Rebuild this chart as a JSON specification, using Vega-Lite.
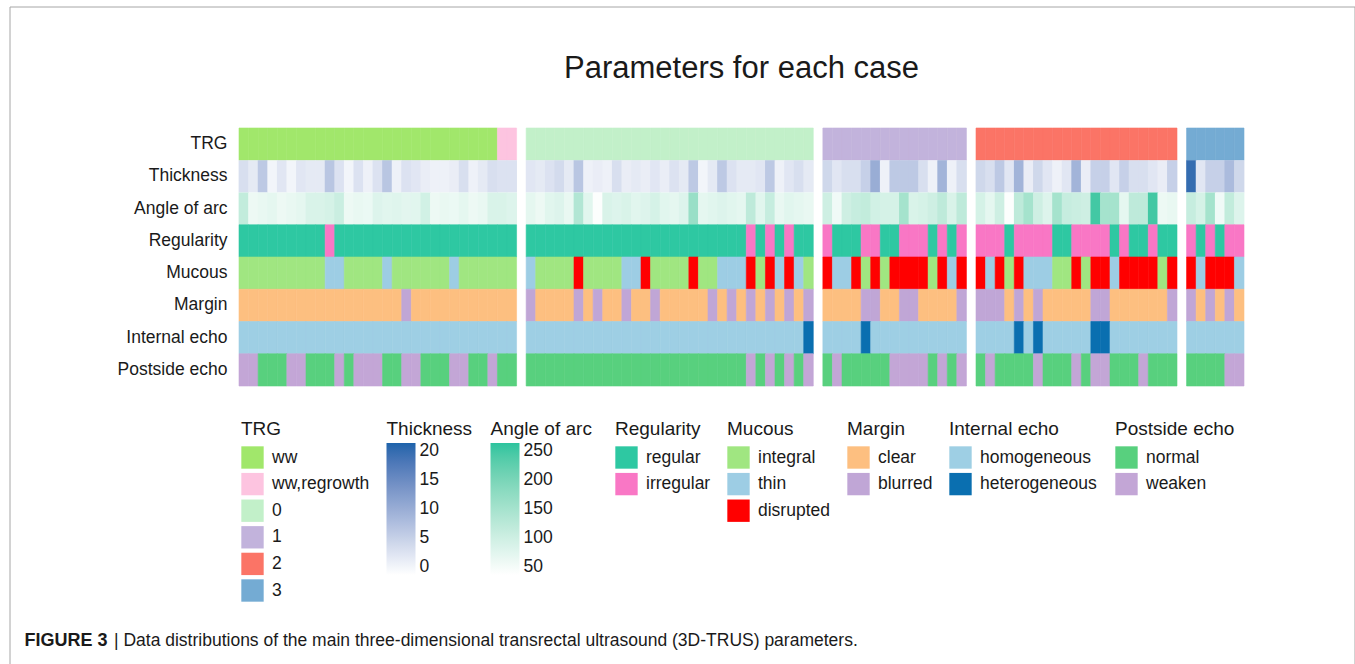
{
  "$schema": "https://vega.github.io/schema/vega-lite/v6.json",
  "width": 1345,
  "height": 657.5,
  "autosize": {"type": "none"},
  "padding": {"left": 9.5, "top": 6.5, "right": 0.5, "bottom": 0},
  "background": "white",
  "config": {
    "font": "Liberation Sans",
    "view": {"stroke": "#a6a6a6", "strokeWidth": 1},
    "legend": {
      "orient": "none",
      "titleFontSize": 19,
      "titleFontWeight": "normal",
      "titleColor": "#1a1a1a",
      "titleFont": "Liberation Sans",
      "titleBaseline": "top",
      "labelFontSize": 17.5,
      "labelColor": "#1a1a1a",
      "labelFont": "Liberation Sans",
      "symbolType": "square",
      "symbolSize": 500,
      "symbolStrokeWidth": 0,
      "symbolOpacity": 1,
      "rowPadding": 3.6,
      "labelOffset": 8,
      "titlePadding": 7.5,
      "padding": 0,
      "gradientLength": 132,
      "gradientThickness": 29,
      "gradientStrokeWidth": 0,
      "direction": "vertical",
      "titleLimit": 300,
      "labelLimit": 300
    }
  },
  "title": {
    "text": "Parameters for each case",
    "fontSize": 31,
    "fontWeight": "normal",
    "font": "Liberation Sans",
    "color": "#1a1a1a",
    "anchor": "middle",
    "frame": "group",
    "offset": 0,
    "baseline": "alphabetic",
    "dx": 59.5,
    "dy": 102
  },
  "data": {
    "values": [
      {"case": "1", "TRG": "ww", "Thickness": 3, "Angle": 115, "Regularity": "regular", "Mucous": "integral", "Margin": "clear", "Internal": "homogeneous", "Postside": "weaken"},
      {"case": "2", "TRG": "ww", "Thickness": 1.5, "Angle": 60, "Regularity": "regular", "Mucous": "integral", "Margin": "clear", "Internal": "homogeneous", "Postside": "weaken"},
      {"case": "3", "TRG": "ww", "Thickness": 6, "Angle": 65, "Regularity": "regular", "Mucous": "integral", "Margin": "clear", "Internal": "homogeneous", "Postside": "normal"},
      {"case": "4", "TRG": "ww", "Thickness": 0, "Angle": 70, "Regularity": "regular", "Mucous": "integral", "Margin": "clear", "Internal": "homogeneous", "Postside": "normal"},
      {"case": "5", "TRG": "ww", "Thickness": 2, "Angle": 60, "Regularity": "regular", "Mucous": "integral", "Margin": "clear", "Internal": "homogeneous", "Postside": "normal"},
      {"case": "6", "TRG": "ww", "Thickness": 0, "Angle": 65, "Regularity": "regular", "Mucous": "integral", "Margin": "clear", "Internal": "homogeneous", "Postside": "weaken"},
      {"case": "7", "TRG": "ww", "Thickness": 2, "Angle": 70, "Regularity": "regular", "Mucous": "integral", "Margin": "clear", "Internal": "homogeneous", "Postside": "weaken"},
      {"case": "8", "TRG": "ww", "Thickness": 1.5, "Angle": 85, "Regularity": "regular", "Mucous": "integral", "Margin": "clear", "Internal": "homogeneous", "Postside": "normal"},
      {"case": "9", "TRG": "ww", "Thickness": 1.5, "Angle": 85, "Regularity": "regular", "Mucous": "integral", "Margin": "clear", "Internal": "homogeneous", "Postside": "normal"},
      {"case": "10", "TRG": "ww", "Thickness": 6.5, "Angle": 90, "Regularity": "irregular", "Mucous": "thin", "Margin": "clear", "Internal": "homogeneous", "Postside": "normal"},
      {"case": "11", "TRG": "ww", "Thickness": 2.5, "Angle": 105, "Regularity": "regular", "Mucous": "thin", "Margin": "clear", "Internal": "homogeneous", "Postside": "weaken"},
      {"case": "12", "TRG": "ww", "Thickness": 0, "Angle": 60, "Regularity": "regular", "Mucous": "integral", "Margin": "clear", "Internal": "homogeneous", "Postside": "normal"},
      {"case": "13", "TRG": "ww", "Thickness": 2.5, "Angle": 65, "Regularity": "regular", "Mucous": "integral", "Margin": "clear", "Internal": "homogeneous", "Postside": "weaken"},
      {"case": "14", "TRG": "ww", "Thickness": 0.5, "Angle": 62, "Regularity": "regular", "Mucous": "integral", "Margin": "clear", "Internal": "homogeneous", "Postside": "weaken"},
      {"case": "15", "TRG": "ww", "Thickness": 2.5, "Angle": 80, "Regularity": "regular", "Mucous": "integral", "Margin": "clear", "Internal": "homogeneous", "Postside": "weaken"},
      {"case": "16", "TRG": "ww", "Thickness": 6.5, "Angle": 75, "Regularity": "regular", "Mucous": "thin", "Margin": "clear", "Internal": "homogeneous", "Postside": "normal"},
      {"case": "17", "TRG": "ww", "Thickness": 0.5, "Angle": 78, "Regularity": "regular", "Mucous": "integral", "Margin": "clear", "Internal": "homogeneous", "Postside": "normal"},
      {"case": "18", "TRG": "ww", "Thickness": 2.5, "Angle": 72, "Regularity": "regular", "Mucous": "integral", "Margin": "blurred", "Internal": "homogeneous", "Postside": "weaken"},
      {"case": "19", "TRG": "ww", "Thickness": 2, "Angle": 75, "Regularity": "regular", "Mucous": "integral", "Margin": "clear", "Internal": "homogeneous", "Postside": "weaken"},
      {"case": "20", "TRG": "ww", "Thickness": 1, "Angle": 95, "Regularity": "regular", "Mucous": "integral", "Margin": "clear", "Internal": "homogeneous", "Postside": "normal"},
      {"case": "21", "TRG": "ww", "Thickness": 0.5, "Angle": 60, "Regularity": "regular", "Mucous": "integral", "Margin": "clear", "Internal": "homogeneous", "Postside": "normal"},
      {"case": "22", "TRG": "ww", "Thickness": 0.5, "Angle": 65, "Regularity": "regular", "Mucous": "integral", "Margin": "clear", "Internal": "homogeneous", "Postside": "normal"},
      {"case": "23", "TRG": "ww", "Thickness": 1, "Angle": 62, "Regularity": "regular", "Mucous": "thin", "Margin": "clear", "Internal": "homogeneous", "Postside": "weaken"},
      {"case": "24", "TRG": "ww", "Thickness": 3, "Angle": 70, "Regularity": "regular", "Mucous": "integral", "Margin": "clear", "Internal": "homogeneous", "Postside": "weaken"},
      {"case": "25", "TRG": "ww", "Thickness": 0.5, "Angle": 60, "Regularity": "regular", "Mucous": "integral", "Margin": "clear", "Internal": "homogeneous", "Postside": "normal"},
      {"case": "26", "TRG": "ww", "Thickness": 1.5, "Angle": 65, "Regularity": "regular", "Mucous": "integral", "Margin": "clear", "Internal": "homogeneous", "Postside": "normal"},
      {"case": "27", "TRG": "ww", "Thickness": 3, "Angle": 85, "Regularity": "regular", "Mucous": "integral", "Margin": "clear", "Internal": "homogeneous", "Postside": "weaken"},
      {"case": "28", "TRG": "ww,regrowth", "Thickness": 2.5, "Angle": 85, "Regularity": "regular", "Mucous": "integral", "Margin": "clear", "Internal": "homogeneous", "Postside": "normal"},
      {"case": "29", "TRG": "ww,regrowth", "Thickness": 2.5, "Angle": 80, "Regularity": "regular", "Mucous": "integral", "Margin": "clear", "Internal": "homogeneous", "Postside": "normal"},
      {"case": "30", "TRG": "0", "Thickness": 2, "Angle": 70, "Regularity": "regular", "Mucous": "thin", "Margin": "blurred", "Internal": "homogeneous", "Postside": "normal"},
      {"case": "31", "TRG": "0", "Thickness": 1.5, "Angle": 60, "Regularity": "regular", "Mucous": "integral", "Margin": "clear", "Internal": "homogeneous", "Postside": "normal"},
      {"case": "32", "TRG": "0", "Thickness": 2.5, "Angle": 75, "Regularity": "regular", "Mucous": "integral", "Margin": "clear", "Internal": "homogeneous", "Postside": "normal"},
      {"case": "33", "TRG": "0", "Thickness": 3.5, "Angle": 80, "Regularity": "regular", "Mucous": "integral", "Margin": "clear", "Internal": "homogeneous", "Postside": "normal"},
      {"case": "34", "TRG": "0", "Thickness": 1.5, "Angle": 65, "Regularity": "regular", "Mucous": "integral", "Margin": "clear", "Internal": "homogeneous", "Postside": "normal"},
      {"case": "35", "TRG": "0", "Thickness": 6.5, "Angle": 135, "Regularity": "regular", "Mucous": "disrupted", "Margin": "blurred", "Internal": "homogeneous", "Postside": "normal"},
      {"case": "36", "TRG": "0", "Thickness": 0.5, "Angle": 75, "Regularity": "regular", "Mucous": "integral", "Margin": "clear", "Internal": "homogeneous", "Postside": "normal"},
      {"case": "37", "TRG": "0", "Thickness": 1, "Angle": 40, "Regularity": "regular", "Mucous": "integral", "Margin": "blurred", "Internal": "homogeneous", "Postside": "normal"},
      {"case": "38", "TRG": "0", "Thickness": 0.5, "Angle": 85, "Regularity": "regular", "Mucous": "integral", "Margin": "clear", "Internal": "homogeneous", "Postside": "normal"},
      {"case": "39", "TRG": "0", "Thickness": 3, "Angle": 80, "Regularity": "regular", "Mucous": "integral", "Margin": "clear", "Internal": "homogeneous", "Postside": "normal"},
      {"case": "40", "TRG": "0", "Thickness": 1, "Angle": 85, "Regularity": "regular", "Mucous": "thin", "Margin": "blurred", "Internal": "homogeneous", "Postside": "normal"},
      {"case": "41", "TRG": "0", "Thickness": 1.5, "Angle": 75, "Regularity": "regular", "Mucous": "thin", "Margin": "clear", "Internal": "homogeneous", "Postside": "normal"},
      {"case": "42", "TRG": "0", "Thickness": 1, "Angle": 80, "Regularity": "regular", "Mucous": "disrupted", "Margin": "clear", "Internal": "homogeneous", "Postside": "normal"},
      {"case": "43", "TRG": "0", "Thickness": 2, "Angle": 90, "Regularity": "regular", "Mucous": "integral", "Margin": "blurred", "Internal": "homogeneous", "Postside": "normal"},
      {"case": "44", "TRG": "0", "Thickness": 1, "Angle": 75, "Regularity": "regular", "Mucous": "integral", "Margin": "clear", "Internal": "homogeneous", "Postside": "normal"},
      {"case": "45", "TRG": "0", "Thickness": 2.5, "Angle": 70, "Regularity": "regular", "Mucous": "integral", "Margin": "clear", "Internal": "homogeneous", "Postside": "normal"},
      {"case": "46", "TRG": "0", "Thickness": 1.5, "Angle": 80, "Regularity": "regular", "Mucous": "integral", "Margin": "clear", "Internal": "homogeneous", "Postside": "normal"},
      {"case": "47", "TRG": "0", "Thickness": 6, "Angle": 165, "Regularity": "regular", "Mucous": "disrupted", "Margin": "clear", "Internal": "homogeneous", "Postside": "normal"},
      {"case": "48", "TRG": "0", "Thickness": 0, "Angle": 70, "Regularity": "regular", "Mucous": "integral", "Margin": "clear", "Internal": "homogeneous", "Postside": "normal"},
      {"case": "49", "TRG": "0", "Thickness": 1.5, "Angle": 75, "Regularity": "regular", "Mucous": "integral", "Margin": "blurred", "Internal": "homogeneous", "Postside": "normal"},
      {"case": "50", "TRG": "0", "Thickness": 6, "Angle": 80, "Regularity": "regular", "Mucous": "thin", "Margin": "clear", "Internal": "homogeneous", "Postside": "normal"},
      {"case": "51", "TRG": "0", "Thickness": 2.5, "Angle": 75, "Regularity": "regular", "Mucous": "thin", "Margin": "blurred", "Internal": "homogeneous", "Postside": "normal"},
      {"case": "52", "TRG": "0", "Thickness": 1.5, "Angle": 70, "Regularity": "regular", "Mucous": "thin", "Margin": "clear", "Internal": "homogeneous", "Postside": "normal"},
      {"case": "53", "TRG": "0", "Thickness": 1.5, "Angle": 120, "Regularity": "irregular", "Mucous": "disrupted", "Margin": "blurred", "Internal": "homogeneous", "Postside": "weaken"},
      {"case": "54", "TRG": "0", "Thickness": 2, "Angle": 75, "Regularity": "regular", "Mucous": "integral", "Margin": "clear", "Internal": "homogeneous", "Postside": "normal"},
      {"case": "55", "TRG": "0", "Thickness": 6, "Angle": 110, "Regularity": "irregular", "Mucous": "disrupted", "Margin": "blurred", "Internal": "homogeneous", "Postside": "weaken"},
      {"case": "56", "TRG": "0", "Thickness": 0.5, "Angle": 65, "Regularity": "regular", "Mucous": "thin", "Margin": "clear", "Internal": "homogeneous", "Postside": "normal"},
      {"case": "57", "TRG": "0", "Thickness": 2, "Angle": 75, "Regularity": "irregular", "Mucous": "disrupted", "Margin": "blurred", "Internal": "homogeneous", "Postside": "weaken"},
      {"case": "58", "TRG": "0", "Thickness": 3, "Angle": 70, "Regularity": "regular", "Mucous": "thin", "Margin": "clear", "Internal": "homogeneous", "Postside": "normal"},
      {"case": "59", "TRG": "0", "Thickness": 1.5, "Angle": 65, "Regularity": "regular", "Mucous": "integral", "Margin": "blurred", "Internal": "heterogeneous", "Postside": "weaken"},
      {"case": "60", "TRG": "1", "Thickness": 4, "Angle": 100, "Regularity": "irregular", "Mucous": "disrupted", "Margin": "clear", "Internal": "homogeneous", "Postside": "normal"},
      {"case": "61", "TRG": "1", "Thickness": 2, "Angle": 55, "Regularity": "regular", "Mucous": "thin", "Margin": "clear", "Internal": "homogeneous", "Postside": "weaken"},
      {"case": "62", "TRG": "1", "Thickness": 3, "Angle": 100, "Regularity": "regular", "Mucous": "thin", "Margin": "clear", "Internal": "homogeneous", "Postside": "normal"},
      {"case": "63", "TRG": "1", "Thickness": 3, "Angle": 110, "Regularity": "regular", "Mucous": "disrupted", "Margin": "clear", "Internal": "homogeneous", "Postside": "normal"},
      {"case": "64", "TRG": "1", "Thickness": 5, "Angle": 115, "Regularity": "irregular", "Mucous": "integral", "Margin": "blurred", "Internal": "heterogeneous", "Postside": "normal"},
      {"case": "65", "TRG": "1", "Thickness": 10, "Angle": 95, "Regularity": "irregular", "Mucous": "disrupted", "Margin": "blurred", "Internal": "homogeneous", "Postside": "normal"},
      {"case": "66", "TRG": "1", "Thickness": 0.5, "Angle": 90, "Regularity": "regular", "Mucous": "integral", "Margin": "clear", "Internal": "homogeneous", "Postside": "normal"},
      {"case": "67", "TRG": "1", "Thickness": 6, "Angle": 90, "Regularity": "regular", "Mucous": "disrupted", "Margin": "clear", "Internal": "homogeneous", "Postside": "weaken"},
      {"case": "68", "TRG": "1", "Thickness": 6, "Angle": 150, "Regularity": "irregular", "Mucous": "disrupted", "Margin": "blurred", "Internal": "homogeneous", "Postside": "weaken"},
      {"case": "69", "TRG": "1", "Thickness": 6, "Angle": 85, "Regularity": "irregular", "Mucous": "disrupted", "Margin": "blurred", "Internal": "homogeneous", "Postside": "weaken"},
      {"case": "70", "TRG": "1", "Thickness": 3, "Angle": 90, "Regularity": "irregular", "Mucous": "disrupted", "Margin": "clear", "Internal": "homogeneous", "Postside": "weaken"},
      {"case": "71", "TRG": "1", "Thickness": 0.5, "Angle": 100, "Regularity": "regular", "Mucous": "integral", "Margin": "clear", "Internal": "homogeneous", "Postside": "normal"},
      {"case": "72", "TRG": "1", "Thickness": 9, "Angle": 120, "Regularity": "irregular", "Mucous": "disrupted", "Margin": "clear", "Internal": "homogeneous", "Postside": "weaken"},
      {"case": "73", "TRG": "1", "Thickness": 0.5, "Angle": 85, "Regularity": "regular", "Mucous": "thin", "Margin": "clear", "Internal": "homogeneous", "Postside": "normal"},
      {"case": "74", "TRG": "1", "Thickness": 3, "Angle": 120, "Regularity": "irregular", "Mucous": "disrupted", "Margin": "blurred", "Internal": "homogeneous", "Postside": "weaken"},
      {"case": "75", "TRG": "2", "Thickness": 4, "Angle": 90, "Regularity": "irregular", "Mucous": "disrupted", "Margin": "blurred", "Internal": "homogeneous", "Postside": "normal"},
      {"case": "76", "TRG": "2", "Thickness": 3, "Angle": 70, "Regularity": "irregular", "Mucous": "thin", "Margin": "blurred", "Internal": "homogeneous", "Postside": "weaken"},
      {"case": "77", "TRG": "2", "Thickness": 6, "Angle": 100, "Regularity": "irregular", "Mucous": "disrupted", "Margin": "blurred", "Internal": "homogeneous", "Postside": "normal"},
      {"case": "78", "TRG": "2", "Thickness": 2, "Angle": 40, "Regularity": "regular", "Mucous": "integral", "Margin": "clear", "Internal": "homogeneous", "Postside": "normal"},
      {"case": "79", "TRG": "2", "Thickness": 9, "Angle": 120, "Regularity": "irregular", "Mucous": "disrupted", "Margin": "blurred", "Internal": "heterogeneous", "Postside": "normal"},
      {"case": "80", "TRG": "2", "Thickness": 1, "Angle": 150, "Regularity": "irregular", "Mucous": "thin", "Margin": "clear", "Internal": "homogeneous", "Postside": "normal"},
      {"case": "81", "TRG": "2", "Thickness": 4, "Angle": 100, "Regularity": "irregular", "Mucous": "thin", "Margin": "blurred", "Internal": "heterogeneous", "Postside": "weaken"},
      {"case": "82", "TRG": "2", "Thickness": 2, "Angle": 80, "Regularity": "irregular", "Mucous": "thin", "Margin": "clear", "Internal": "homogeneous", "Postside": "normal"},
      {"case": "83", "TRG": "2", "Thickness": 0.5, "Angle": 150, "Regularity": "regular", "Mucous": "integral", "Margin": "clear", "Internal": "homogeneous", "Postside": "normal"},
      {"case": "84", "TRG": "2", "Thickness": 2, "Angle": 110, "Regularity": "regular", "Mucous": "integral", "Margin": "clear", "Internal": "homogeneous", "Postside": "normal"},
      {"case": "85", "TRG": "2", "Thickness": 9, "Angle": 105, "Regularity": "irregular", "Mucous": "disrupted", "Margin": "clear", "Internal": "homogeneous", "Postside": "weaken"},
      {"case": "86", "TRG": "2", "Thickness": 1, "Angle": 100, "Regularity": "irregular", "Mucous": "integral", "Margin": "clear", "Internal": "homogeneous", "Postside": "normal"},
      {"case": "87", "TRG": "2", "Thickness": 5, "Angle": 250, "Regularity": "irregular", "Mucous": "disrupted", "Margin": "blurred", "Internal": "heterogeneous", "Postside": "weaken"},
      {"case": "88", "TRG": "2", "Thickness": 5, "Angle": 150, "Regularity": "irregular", "Mucous": "disrupted", "Margin": "blurred", "Internal": "heterogeneous", "Postside": "weaken"},
      {"case": "89", "TRG": "2", "Thickness": 2, "Angle": 150, "Regularity": "regular", "Mucous": "thin", "Margin": "clear", "Internal": "homogeneous", "Postside": "normal"},
      {"case": "90", "TRG": "2", "Thickness": 5, "Angle": 70, "Regularity": "irregular", "Mucous": "disrupted", "Margin": "clear", "Internal": "homogeneous", "Postside": "normal"},
      {"case": "91", "TRG": "2", "Thickness": 3, "Angle": 120, "Regularity": "regular", "Mucous": "disrupted", "Margin": "clear", "Internal": "homogeneous", "Postside": "normal"},
      {"case": "92", "TRG": "2", "Thickness": 3, "Angle": 120, "Regularity": "regular", "Mucous": "disrupted", "Margin": "clear", "Internal": "homogeneous", "Postside": "weaken"},
      {"case": "93", "TRG": "2", "Thickness": 2, "Angle": 250, "Regularity": "irregular", "Mucous": "disrupted", "Margin": "clear", "Internal": "homogeneous", "Postside": "normal"},
      {"case": "94", "TRG": "2", "Thickness": 1, "Angle": 60, "Regularity": "regular", "Mucous": "integral", "Margin": "clear", "Internal": "homogeneous", "Postside": "normal"},
      {"case": "95", "TRG": "2", "Thickness": 5, "Angle": 65, "Regularity": "regular", "Mucous": "disrupted", "Margin": "blurred", "Internal": "homogeneous", "Postside": "normal"},
      {"case": "96", "TRG": "3", "Thickness": 20, "Angle": 110, "Regularity": "irregular", "Mucous": "disrupted", "Margin": "blurred", "Internal": "homogeneous", "Postside": "normal"},
      {"case": "97", "TRG": "3", "Thickness": 2, "Angle": 90, "Regularity": "regular", "Mucous": "thin", "Margin": "clear", "Internal": "homogeneous", "Postside": "normal"},
      {"case": "98", "TRG": "3", "Thickness": 5, "Angle": 150, "Regularity": "irregular", "Mucous": "disrupted", "Margin": "blurred", "Internal": "homogeneous", "Postside": "normal"},
      {"case": "99", "TRG": "3", "Thickness": 5, "Angle": 55, "Regularity": "regular", "Mucous": "disrupted", "Margin": "clear", "Internal": "homogeneous", "Postside": "normal"},
      {"case": "100", "TRG": "3", "Thickness": 8, "Angle": 115, "Regularity": "irregular", "Mucous": "disrupted", "Margin": "blurred", "Internal": "homogeneous", "Postside": "weaken"},
      {"case": "101", "TRG": "3", "Thickness": 4, "Angle": 80, "Regularity": "irregular", "Mucous": "thin", "Margin": "clear", "Internal": "homogeneous", "Postside": "weaken"}
    ]
  },
  "encoding": {
    "x": {
      "field": "case",
      "type": "nominal",
      "scale": {
        "domain": ["1","2","3","4","5","6","7","8","9","10","11","12","13","14","15","16","17","18","19","20","21","22","23","24","25","26","27","28","29","g1","30","31","32","33","34","35","36","37","38","39","40","41","42","43","44","45","46","47","48","49","50","51","52","53","54","55","56","57","58","59","g2","60","61","62","63","64","65","66","67","68","69","70","71","72","73","74","g3","75","76","77","78","79","80","81","82","83","84","85","86","87","88","89","90","91","92","93","94","95","g4","96","97","98","99","100","101"],
        "paddingInner": 0,
        "paddingOuter": 0,
        "range": [229.5, 1234.5]
      },
      "axis": {
        "labels": false,
        "ticks": false,
        "domain": false,
        "grid": false,
        "title": "|   Data distributions of the main three-dimensional transrectal ultrasound (3D-TRUS) parameters.",
        "titleX": 104,
        "titleY": -19,
        "titleAngle": 0,
        "titleAlign": "left",
        "titleBaseline": "alphabetic",
        "titleFontSize": 17.5,
        "titleFontWeight": "normal",
        "titleColor": "#1a1a1a",
        "titleFont": "Liberation Sans"
      }
    }
  },
  "layer": [
    {
      "mark": {"type": "rect", "strokeWidth": 0.6},
      "encoding": {
        "y": {
          "datum": "TRG",
          "type": "nominal",
          "scale": {"domain": ["TRG","Thickness","Angle of arc","Regularity","Mucous","Margin","Internal echo","Postside echo"], "paddingInner": 0, "paddingOuter": 0, "range": [121.5, 379.5]},
          "axis": {
            "offset": -229.5,
            "ticks": false,
            "domain": false,
            "grid": false,
            "labelPadding": 12,
            "labelFontSize": 17.5,
            "labelColor": "#1a1a1a",
            "labelFont": "Liberation Sans",
            "title": "FIGURE 3",
            "titleAngle": 0,
            "titleX": -215,
            "titleY": 638.5,
            "titleAlign": "left",
            "titleBaseline": "alphabetic",
            "titleFontSize": 18,
            "titleFontWeight": "bold",
            "titleColor": "#1a1a1a",
            "titleFont": "Liberation Sans"
          }
        },
        "color": {
          "field": "TRG",
          "type": "nominal",
          "scale": {"domain": ["ww","ww,regrowth","0","1","2","3"], "range": ["#a1e76b","#fdc4e0","#c2f0c9","#c2b3dc","#fb7466","#74abd3"]},
          "legend": {"title": "TRG", "legendX": 231.5, "legendY": 413}
        },
        "stroke": {
          "field": "TRG",
          "type": "nominal",
          "scale": {"domain": ["ww","ww,regrowth","0","1","2","3"], "range": ["#a1e76b","#fdc4e0","#c2f0c9","#c2b3dc","#fb7466","#74abd3"]},
          "legend": null
        }
      }
    },
    {
      "mark": {"type": "rect", "strokeWidth": 0, "width": {"band": 1.08}},
      "encoding": {
        "y": {"datum": "Thickness", "type": "nominal", "scale": {"domain": ["TRG","Thickness","Angle of arc","Regularity","Mucous","Margin","Internal echo","Postside echo"], "paddingInner": 0, "paddingOuter": 0, "range": [121.5, 379.5]}},
        "color": {
          "field": "Thickness",
          "type": "quantitative",
          "scale": {"domain": [-1.4, 21.4], "range": ["#ffffff", "#1d63ab"], "interpolate": "lab", "nice": false, "zero": false},
          "legend": {"title": "Thickness", "legendX": 377, "legendY": 413, "values": [0, 5, 10, 15, 20], "titlePadding": 4.5, "labelOffset": 4}
        }
      }
    },
    {
      "mark": {"type": "rect", "strokeWidth": 0, "width": {"band": 1.08}},
      "encoding": {
        "y": {"datum": "Angle of arc", "type": "nominal", "scale": {"domain": ["TRG","Thickness","Angle of arc","Regularity","Mucous","Margin","Internal echo","Postside echo"], "paddingInner": 0, "paddingOuter": 0, "range": [121.5, 379.5]}},
        "color": {
          "field": "Angle",
          "type": "quantitative",
          "scale": {"domain": [36, 264], "range": ["#ffffff", "#2cc49e"], "interpolate": "lab", "nice": false, "zero": false},
          "legend": {"title": "Angle of arc", "legendX": 481, "legendY": 413, "values": [50, 100, 150, 200, 250], "titlePadding": 4.5, "labelOffset": 4}
        }
      }
    },
    {
      "mark": {"type": "rect", "strokeWidth": 0.6},
      "encoding": {
        "y": {"datum": "Regularity", "type": "nominal", "scale": {"domain": ["TRG","Thickness","Angle of arc","Regularity","Mucous","Margin","Internal echo","Postside echo"], "paddingInner": 0, "paddingOuter": 0, "range": [121.5, 379.5]}},
        "color": {
          "field": "Regularity",
          "type": "nominal",
          "scale": {"domain": ["regular","irregular"], "range": ["#2ec8a2","#f977c5"]},
          "legend": {"title": "Regularity", "legendX": 605.5, "legendY": 413}
        },
        "stroke": {
          "field": "Regularity",
          "type": "nominal",
          "scale": {"domain": ["regular","irregular"], "range": ["#2ec8a2","#f977c5"]},
          "legend": null
        }
      }
    },
    {
      "mark": {"type": "rect", "strokeWidth": 0.6},
      "encoding": {
        "y": {"datum": "Mucous", "type": "nominal", "scale": {"domain": ["TRG","Thickness","Angle of arc","Regularity","Mucous","Margin","Internal echo","Postside echo"], "paddingInner": 0, "paddingOuter": 0, "range": [121.5, 379.5]}},
        "color": {
          "field": "Mucous",
          "type": "nominal",
          "scale": {"domain": ["integral","thin","disrupted"], "range": ["#a0e681","#9dcde4","#ff0000"]},
          "legend": {"title": "Mucous", "legendX": 717.5, "legendY": 413}
        },
        "stroke": {
          "field": "Mucous",
          "type": "nominal",
          "scale": {"domain": ["integral","thin","disrupted"], "range": ["#a0e681","#9dcde4","#ff0000"]},
          "legend": null
        }
      }
    },
    {
      "mark": {"type": "rect", "strokeWidth": 0.6},
      "encoding": {
        "y": {"datum": "Margin", "type": "nominal", "scale": {"domain": ["TRG","Thickness","Angle of arc","Regularity","Mucous","Margin","Internal echo","Postside echo"], "paddingInner": 0, "paddingOuter": 0, "range": [121.5, 379.5]}},
        "color": {
          "field": "Margin",
          "type": "nominal",
          "scale": {"domain": ["clear","blurred"], "range": ["#fdbf80","#c0a6d6"]},
          "legend": {"title": "Margin", "legendX": 837.5, "legendY": 413}
        },
        "stroke": {
          "field": "Margin",
          "type": "nominal",
          "scale": {"domain": ["clear","blurred"], "range": ["#fdbf80","#c0a6d6"]},
          "legend": null
        }
      }
    },
    {
      "mark": {"type": "rect", "strokeWidth": 0.6},
      "encoding": {
        "y": {"datum": "Internal echo", "type": "nominal", "scale": {"domain": ["TRG","Thickness","Angle of arc","Regularity","Mucous","Margin","Internal echo","Postside echo"], "paddingInner": 0, "paddingOuter": 0, "range": [121.5, 379.5]}},
        "color": {
          "field": "Internal",
          "type": "nominal",
          "scale": {"domain": ["homogeneous","heterogeneous"], "range": ["#9ecfe4","#0a6fb0"]},
          "legend": {"title": "Internal echo", "legendX": 939.5, "legendY": 413}
        },
        "stroke": {
          "field": "Internal",
          "type": "nominal",
          "scale": {"domain": ["homogeneous","heterogeneous"], "range": ["#9ecfe4","#0a6fb0"]},
          "legend": null
        }
      }
    },
    {
      "mark": {"type": "rect", "strokeWidth": 0.6},
      "encoding": {
        "y": {"datum": "Postside echo", "type": "nominal", "scale": {"domain": ["TRG","Thickness","Angle of arc","Regularity","Mucous","Margin","Internal echo","Postside echo"], "paddingInner": 0, "paddingOuter": 0, "range": [121.5, 379.5]}},
        "color": {
          "field": "Postside",
          "type": "nominal",
          "scale": {"domain": ["normal","weaken"], "range": ["#58d07e","#c3a6d6"]},
          "legend": {"title": "Postside echo", "legendX": 1105.5, "legendY": 413}
        },
        "stroke": {
          "field": "Postside",
          "type": "nominal",
          "scale": {"domain": ["normal","weaken"], "range": ["#58d07e","#c3a6d6"]},
          "legend": null
        }
      }
    }
  ],
  "resolve": {"scale": {"color": "independent", "stroke": "independent"}, "legend": {"color": "independent", "stroke": "independent"}}
}
